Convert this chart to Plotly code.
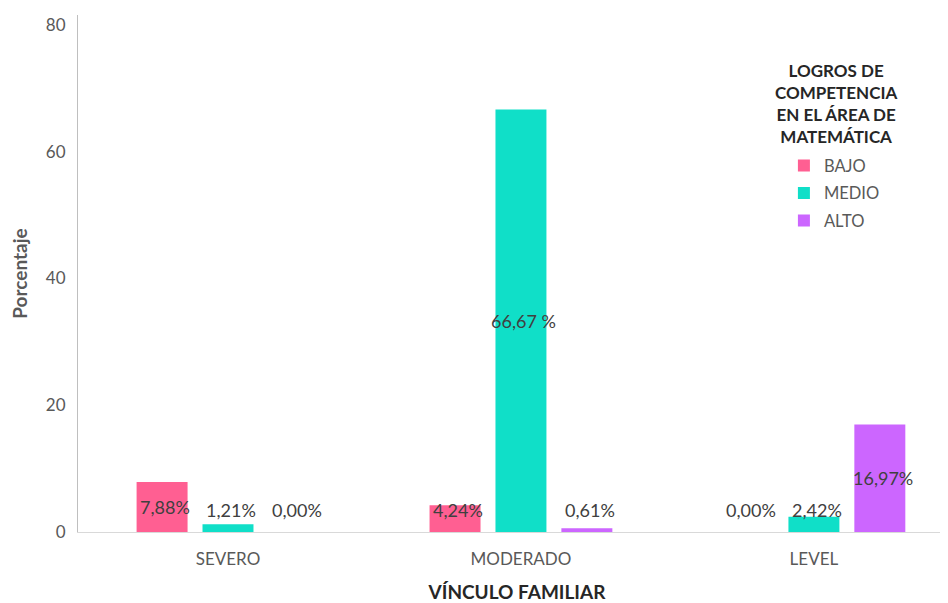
import plotly.graph_objects as go

# datos
categorias = ["SEVERO", "MODERADO", "LEVEL"]
niveles = ["BAJO", "MEDIO", "ALTO"]
bajo = [7.88, 4.24, 0.00]
medio = [1.21, 66.67, 2.42]
alto = [0.00, 0.61, 16.97]
etiquetas = [
    ["7,88%", "4,24%", "0,00%"],
    ["1,21%", "66,67 %", "2,42%"],
    ["0,00%", "0,61%", "16,97%"],
]
colores = ["#FF5F92", "#10DFC8", "#CC66FF"]

series = [bajo, medio, alto]
paso = 0.225
ancho = 0.174
fuente = "Lato, Carlito, Arial"

fig = go.Figure()
for k, (nombre, vals, col) in enumerate(zip(niveles, series, colores)):
    xs = [i + (k - 1) * paso for i in range(len(categorias))]
    fig.add_trace(go.Bar(
        x=xs, y=vals, width=ancho, name=nombre, legendgroup=nombre,
        marker=dict(color=col, line=dict(width=0)),
        hoverinfo="skip",
    ))
    for x, v, t in zip(xs, vals, etiquetas[k]):
        fig.add_annotation(
            x=x + 0.01, y=max(v / 2, 3.4), text=t, showarrow=False,
            font=dict(family=fuente, size=18, color="#404040"),
        )

# título de la leyenda (centrado sobre los elementos)
fig.add_annotation(
    text="<b>LOGROS DE<br>COMPETENCIA<br>EN EL ÁREA DE<br>MATEMÁTICA</b>",
    xref="paper", yref="paper", x=0.863, y=0.916,
    xanchor="center", yanchor="top", showarrow=False,
    font=dict(family=fuente, size=17, color="#262626"),
)

fig.update_layout(
    width=948, height=603,
    plot_bgcolor="white", paper_bgcolor="white",
    margin=dict(l=70, r=0, t=7, b=79),
    barmode="overlay",
    font=dict(family=fuente, color="#595959"),
    legend=dict(
        x=0.804, y=0.742, xanchor="left", yanchor="top",
        font=dict(size=16.5, color="#595959"),
        itemwidth=30, tracegroupgap=3, traceorder="grouped",
        bgcolor="rgba(0,0,0,0)",
    ),
    showlegend=True,
)
fig.update_xaxes(
    tickvals=list(range(len(categorias))), ticktext=categorias,
    range=[-0.512, 2.485], showgrid=False, zeroline=False,
    showline=True, linecolor="#D9D9D9", linewidth=1,
    tickfont=dict(size=17, color="#595959"),
    ticks="outside", ticklen=12, tickcolor="rgba(0,0,0,0)",
    automargin=False,
    title=dict(text="<b>VÍNCULO FAMILIAR</b>",
               font=dict(size=19, color="#262626"), standoff=17),
)
fig.update_yaxes(
    range=[0, 81.58], tickvals=[0, 20, 40, 60, 80],
    showgrid=False, zeroline=False,
    showline=True, linecolor="#BFBFBF", linewidth=1,
    tickfont=dict(size=17, color="#595959"),
    ticks="outside", ticklen=8, tickcolor="rgba(0,0,0,0)",
    automargin=False,
    title=dict(text="<b>Porcentaje</b>",
               font=dict(size=19, color="#595959"), standoff=30),
)

fig.write_html("out.html")
